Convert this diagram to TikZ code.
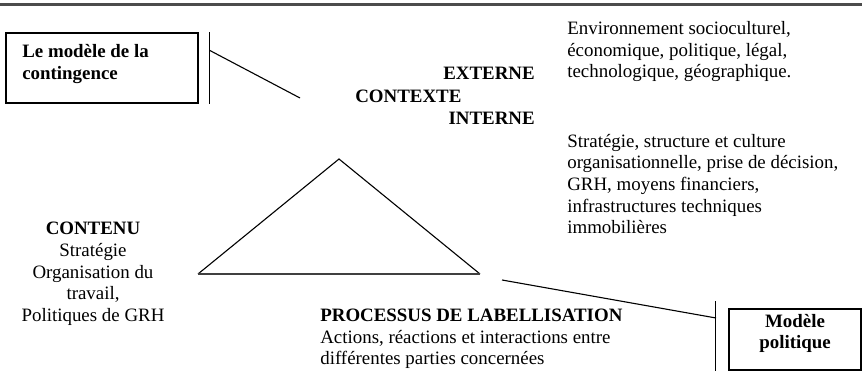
\documentclass[tikz,border=0pt]{standalone}
\usepackage{fontspec}
\setmainfont{Liberation Serif}
\usetikzlibrary{positioning,calc}

\begin{document}
\begin{tikzpicture}[
    x=0.635pt, y=-0.635pt,
    every node/.style={font=\fontsize{12}{13.8}\selectfont, inner sep=0pt},
    framebox/.style={draw, line width=0.8pt},
    heading/.style={font=\fontsize{12}{13.8}\selectfont\bfseries},
    body/.style={align=left},
    link/.style={line width=0.7pt},
    baseedge/.style={line width=1.3pt, black!75},
    rule/.style={line width=1.9pt, black!70}
]
\useasboundingbox (0,0) rectangle (862,383);

% top rule
\draw[rule] (0,5) -- (862,5);

% Contingency model box
\node[framebox, minimum width=192*0.635pt, minimum height=70*0.635pt] (contingence) at (102,68) {};
\node[heading, align=left, anchor=west] (contingencetxt) at (22,64) {Le modèle de la\\contingence};
\coordinate (barA top) at ($(contingence.north east)+(11,0)$);
\coordinate (barA bottom) at ($(contingence.south east)+(11,0)$);
\coordinate (barA tap) at ($(barA top)+(0,18)$);
\coordinate (ctxend) at (300,98);
\draw[link] (barA top) -- (barA bottom);
\draw[link] (barA tap) -- (ctxend);

% context labels
\node[heading, anchor=east] (externe) at (535,73) {EXTERNE};
\node[heading, anchor=west] (contexte) at (355,96) {CONTEXTE};
\node[heading, anchor=east] (interne) at (535,118) {INTERNE};

\node[body, anchor=west] (envext) at (567,51.5) {Environnement socioculturel,\\économique, politique, légal,\\technologique, géographique.};
\node[body, anchor=west] (envint) at (567,184) {Stratégie, structure et culture\\organisationnelle, prise de décision,\\GRH, moyens financiers,\\infrastructures techniques\\immobilières};

% triangle
\coordinate (apex) at (339,159);
\coordinate (baseL) at (198,274);
\coordinate (baseR) at (480,274);
\draw[link] (baseL) -- (apex) -- (baseR);
\draw[baseedge] (baseL) -- (baseR);

% content
\node[align=center] (contenu) at (93,274) {\textbf{CONTENU}\\Stratégie\\Organisation du\\travail,\\Politiques de GRH};

% process
\node[body, anchor=west] (processus) at (320,339) {\textbf{PROCESSUS DE LABELLISATION}\\Actions, réactions et interactions entre\\différentes parties concernées};

% Political model box
\node[framebox, minimum width=132*0.635pt, minimum height=61*0.635pt] (politique) at (795,339.5) {};
\node[heading, align=center] (politiquetxt) at (795,333.5) {Modèle\\politique};
\coordinate (barB top) at ($(politique.north west)+(-13,-7)$);
\coordinate (barB bottom) at ($(politique.south west)+(-13,0)$);
\coordinate (procend) at (502,280);
\coordinate (barB tap) at (716,318);
\draw[link] (barB top) -- (barB bottom);
\draw[link] (procend) -- (barB tap);

\end{tikzpicture}
\end{document}
